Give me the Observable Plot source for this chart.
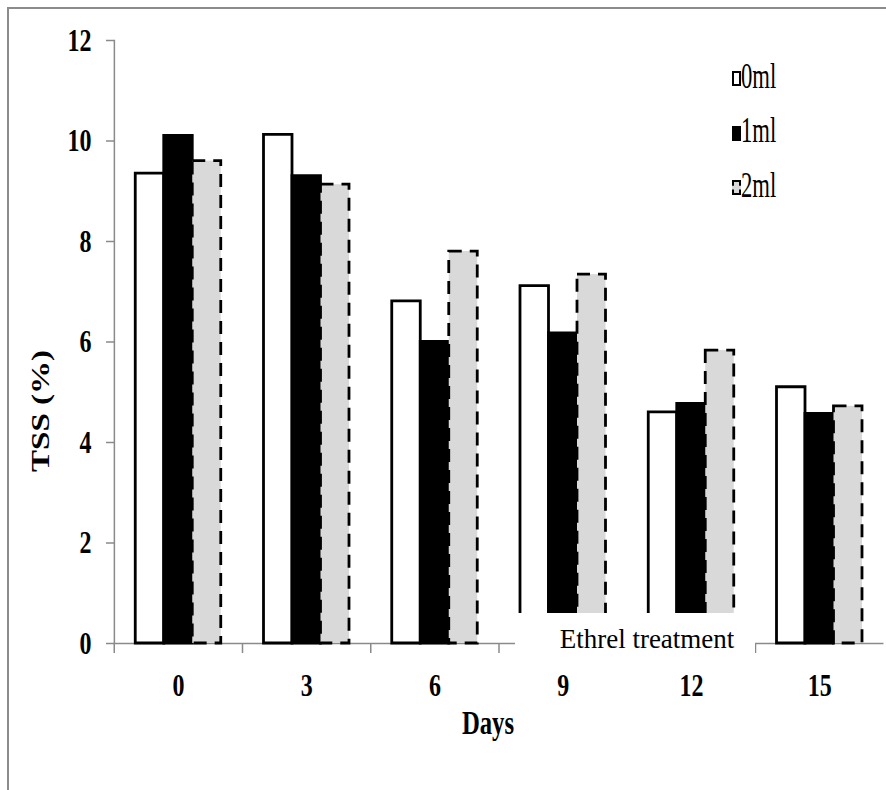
<!DOCTYPE html>
<html>
<head>
<meta charset="utf-8">
<script src="https://cdn.jsdelivr.net/npm/d3@7"></script>
<script src="https://cdn.jsdelivr.net/npm/@observablehq/plot@0.6"></script>
<style>
  html, body { margin: 0; padding: 0; background: #fff; }
  #wrap { position: relative; width: 886px; height: 790px; overflow: hidden;
          font-family: "Liberation Serif", "Times New Roman", serif; color: #000; }
  #wrap svg { position: absolute; left: 0; top: 0; }
  .border { position: absolute; left: 7px; top: 7px; right: -4px; bottom: -4px;
            border-left: 2px solid #8c8c8c; border-top: 2px solid #8c8c8c; pointer-events: none; }
  .ov { position: absolute; white-space: nowrap; line-height: 1; font-family: "Liberation Serif", serif; color: #000; }
  .sw { position: absolute; box-sizing: border-box; }
</style>
</head>
<body>
<div id="wrap"></div>
<script>
// ---- data ----
const days = ["0", "3", "6", "9", "12", "15"];
const series = ["0ml", "1ml", "2ml"];
const ml0 = [9.35, 10.12, 6.81, 7.11, 4.60, 5.10];
const ml1 = [10.10, 9.30, 6.00, 6.17, 4.77, 4.57];
const ml2 = [9.60, 9.13, 7.80, 7.34, 5.83, 4.72];
const yTicks = [0, 2, 4, 6, 8, 10, 12];
const yTitle = "TSS (%)";
const xTitle = "Days";
const note = "Ethrel treatment";

const rows = (vals, s) => days.map((d, i) => ({day: d, series: s, value: vals[i]}));
const d0 = rows(ml0, series[0]);
const d1 = rows(ml1, series[1]);
const d2 = rows(ml2, series[2]);

// ---- layout (the original's type is horizontally condensed) ----
const W = 886, H = 790;
const S = 0.75;               // horizontal condensation factor
const PW = W / S;             // plot's own width before condensation
const mLeft = 113 / S, mRight = 2 / S;
const step = (PW - mLeft - mRight) / days.length;

const grey = "#8a8a8a";
const svg = Plot.plot({
  width: PW,
  height: H,
  marginLeft: mLeft,
  marginRight: mRight,
  marginTop: 40,
  marginBottom: 147,
  style: {fontFamily: "Liberation Serif", background: "transparent", overflow: "visible"},
  fx: {domain: days, padding: 0},
  x: {domain: series, paddingInner: 0, paddingOuter: 0.716, axis: null},
  y: {domain: [0, 12]},
  marks: [
    Plot.frame({anchor: "left", facetAnchor: "left", stroke: grey, strokeWidth: 1.5}),
    Plot.axisY(yTicks, {tickSize: 8 / S, stroke: grey, strokeWidth: 1.5, tickFormat: () => "", label: null}),
    Plot.axisY(yTicks, {tickSize: 0, tickPadding: 23 / S, fontSize: 32, fontWeight: "bold", fill: "black",
                        tickFormat: d => String(d), label: null}),
    Plot.axisFx({anchor: "bottom", tickSize: 10, dx: -step / 2, stroke: grey, strokeWidth: 1.5,
                 tickFormat: () => "", label: null}),
    Plot.axisFx({anchor: "bottom", tickSize: 0, tickPadding: 30, fontSize: 32, fontWeight: "bold",
                 fill: "black", label: null}),
    Plot.ruleY([0], {stroke: grey, strokeWidth: 1.5}),
    Plot.barY(d0, {fx: "day", x: "series", y: "value", fill: "white", stroke: "black", strokeWidth: 2.8, inset: 0}),
    Plot.barY(d1, {fx: "day", x: "series", y: "value", fill: "black", stroke: "black", strokeWidth: 2.8, inset: 0}),
    Plot.barY(d2, {fx: "day", x: "series", y: "value", fill: "#d9d9d9", stroke: "black", strokeWidth: 2.8,
                   strokeDasharray: "13,8", inset: 0})
  ]
});

svg.setAttribute("width", W);
svg.setAttribute("height", H);
svg.setAttribute("viewBox", `0 0 ${PW} ${H}`);
svg.setAttribute("preserveAspectRatio", "none");
svg.style.width = W + "px";
svg.style.height = H + "px";
svg.style.maxWidth = "none";
svg.querySelectorAll("*").forEach(el => el.setAttribute("vector-effect", "non-scaling-stroke"));

const wrap = document.getElementById("wrap");
wrap.appendChild(svg);

function addDiv(parent, cls, css, text) {
  const el = document.createElement("div");
  el.className = cls;
  el.style.cssText = css;
  if (text != null) el.textContent = text;
  parent.appendChild(el);
  return el;
}

// frame border of the original figure
addDiv(wrap, "border", "");

// axis titles
addDiv(wrap, "ov", `left:488px; top:706px; font-size:34px; font-weight:bold;
  transform: translateX(-50%) scaleX(${S * 0.97});`, xTitle);
addDiv(wrap, "ov", `left:41px; top:411px; font-size:33px; font-weight:bold;
  transform: translate(-50%,-50%) scaleX(${S}) rotate(-90deg);`, yTitle);

// legend
const legendStyles = [
  "background:#fff; border:2px solid #000;",
  "background:#000; border:2px solid #000;",
  "background:#d9d9d9; border:2px dashed #000;"
];
series.forEach((s, i) => {
  const base = 88.3 + i * 54.2;
  addDiv(wrap, "sw", `left:732px; top:${base - 17}px; width:9px; height:15px; ${legendStyles[i]}`);
  addDiv(wrap, "ov", `left:741px; top:${base - 30.2}px; font-size:36px; transform-origin: 0 0; transform: scaleX(0.63);`, s);
});

// "Ethrel treatment" text box laid over the axis
const box = addDiv(wrap, "ov", "left:515px; top:613px; width:240px; height:50px; background:#fff;");
addDiv(box, "ov", "left:132px; top:13px; font-size:27px; transform: translateX(-50%);", note);
</script>
</body>
</html>
